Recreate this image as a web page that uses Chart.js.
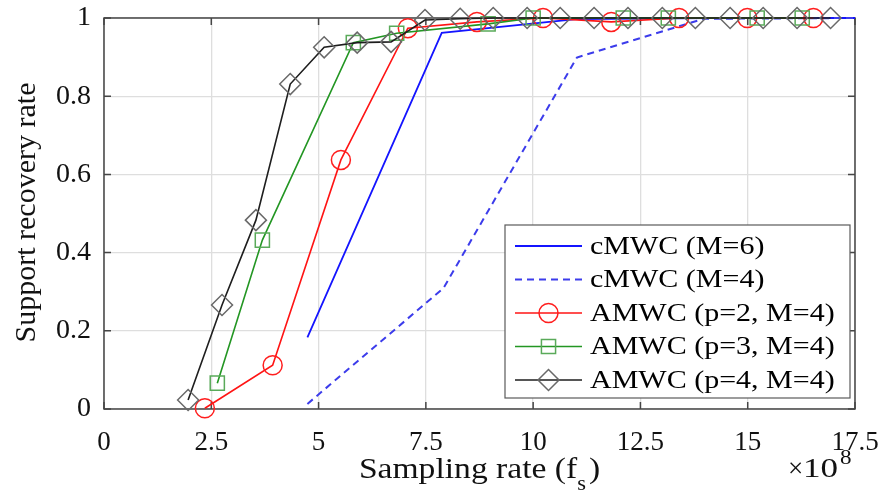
<!DOCTYPE html>
<html>
<head>
<meta charset="utf-8">
<script src="https://cdn.jsdelivr.net/npm/chart.js@4.4.1/dist/chart.umd.min.js"></script>
<style>
    html, body { margin: 0; padding: 0; background: #fff; }
    #wrap { width: 884px; height: 502px; }
</style>
</head>
<body>
<div id="wrap"><canvas id="myChart" width="884" height="502"></canvas></div>
<script>
// values (x in units of 1e8)
const xTicks = [0, 2.5, 5, 7.5, 10, 12.5, 15, 17.5];
const yTicks = [0, 0.2, 0.4, 0.6, 0.8, 1];

const seriesNames =
[
    'cMWC (M=6)',
    'cMWC (M=4)',
    'AMWC (p=2, M=4)',
    'AMWC (p=3, M=4)',
    'AMWC (p=4, M=4)'
];

const m6X = [4.74, 7.87, 11.0, 14.13, 17.5];
const m6Y = [0.183, 0.962, 0.997, 1.0, 1.0];

const m4X = [4.74, 7.91, 11.02, 13.97, 17.5];
const m4Y = [0.013, 0.309, 0.899, 0.998, 1.0];

const p2X = [2.35, 3.93, 5.52, 7.08, 8.69, 10.23, 11.82, 13.40, 14.99, 16.53];
const p2Y = [0.002, 0.112, 0.637, 0.974, 0.99, 1.0, 0.99, 1.0, 1.0, 1.0];

const p3X = [2.64, 3.69, 5.81, 6.82, 8.95, 10.0, 12.1, 13.15, 15.22, 16.27];
const p3Y = [0.066, 0.432, 0.937, 0.961, 0.985, 1.0, 1.0, 1.0, 1.0, 1.0];

const p4X = [1.96, 2.75, 3.54, 4.34, 5.13, 5.90, 6.69, 7.48, 8.30, 9.07,
             9.86, 10.63, 11.42, 12.21, 13.01, 13.78, 14.59, 15.36, 16.15, 16.93];
const p4Y = [0.023, 0.266, 0.483, 0.831, 0.925, 0.937, 0.939, 0.995, 0.998, 1.0,
             1.0, 1.0, 1.0, 1.0, 1.0, 1.0, 1.0, 1.0, 1.0, 1.0];

const FONT = '"Liberation Serif", "Times New Roman", serif';
const axisColor = 'rgb(70,70,70)';

function pts(xs, ys)
{
    return xs.map((x, i) => ({ x: x, y: ys[i] }));
}

let graphicData =
{
    datasets:
    [
        {
            label: seriesNames[0],
            data: pts(m6X, m6Y),
            borderColor: 'rgb(20,20,255)',
            borderWidth: 1.8,
            pointRadius: 0,
            order: 5
        },
        {
            label: seriesNames[1],
            data: pts(m4X, m4Y),
            borderColor: 'rgb(60,60,235)',
            borderWidth: 2,
            borderDash: [7, 5],
            pointRadius: 0,
            order: 4
        },
        {
            label: seriesNames[2],
            data: pts(p2X, p2Y),
            borderColor: 'rgb(255,20,20)',
            borderWidth: 1.6,
            pointStyle: 'circle',
            pointRadius: 9.5,
            pointBorderColor: 'rgb(255,30,30)',
            pointBorderWidth: 1.5,
            pointBackgroundColor: 'rgba(0,0,0,0)',
            order: 3
        },
        {
            label: seriesNames[3],
            data: pts(p3X, p3Y),
            borderColor: 'rgb(35,150,35)',
            borderWidth: 1.6,
            pointStyle: 'rect',
            pointRadius: 10,
            pointBorderColor: 'rgb(90,170,90)',
            pointBorderWidth: 1.5,
            pointBackgroundColor: 'rgba(0,0,0,0)',
            order: 2
        },
        {
            label: seriesNames[4],
            data: pts(p4X, p4Y),
            borderColor: 'rgb(30,30,30)',
            borderWidth: 1.6,
            pointStyle: 'rectRot',
            pointRadius: 10.5,
            pointBorderColor: 'rgb(105,105,105)',
            pointBorderWidth: 1.5,
            pointBackgroundColor: 'rgba(0,0,0,0)',
            order: 1
        }
    ]
};

function stretchText(ctx, text, x, y, sx)
{
    ctx.save();
    ctx.translate(x, y);
    ctx.scale(sx, 1);
    ctx.fillText(text, 0, 0);
    ctx.restore();
}

function drawMarker(ctx, style, x, y, r)
{
    ctx.beginPath();
    if (style === 'circle')
    {
        ctx.arc(x, y, r, 0, Math.PI * 2);
    }
    else if (style === 'rect')
    {
        const s = r * Math.SQRT1_2;
        ctx.rect(x - s, y - s, 2 * s, 2 * s);
    }
    else if (style === 'rectRot')
    {
        ctx.moveTo(x - r, y);
        ctx.lineTo(x, y - r);
        ctx.lineTo(x + r, y);
        ctx.lineTo(x, y + r);
        ctx.closePath();
    }
    ctx.stroke();
}

// matlab-like box with inward ticks
const boxPlugin =
{
    id: 'box',
    beforeDatasetsDraw(chart)
    {
        const ctx = chart.ctx;
        const a = chart.chartArea;
        const xs = chart.scales.x;
        const ys = chart.scales.y;
        ctx.save();
        ctx.strokeStyle = axisColor;
        ctx.lineWidth = 1.5;
        ctx.strokeRect(a.left, a.top, a.right - a.left, a.bottom - a.top);
        ctx.beginPath();
        xs.ticks.forEach(t =>
        {
            const px = xs.getPixelForValue(t.value);
            ctx.moveTo(px, a.bottom);
            ctx.lineTo(px, a.bottom - 7);
            ctx.moveTo(px, a.top);
            ctx.lineTo(px, a.top + 7);
        });
        ys.ticks.forEach(t =>
        {
            const py = ys.getPixelForValue(t.value);
            ctx.moveTo(a.left, py);
            ctx.lineTo(a.left + 7, py);
            ctx.moveTo(a.right, py);
            ctx.lineTo(a.right - 7, py);
        });
        ctx.stroke();
        ctx.restore();
    },
    afterDraw(chart)
    {
        const ctx = chart.ctx;
        const a = chart.chartArea;
        ctx.save();

        // legend
        const lx = a.right - 350, ly = a.bottom - 184, lw = 345, lh = 173;
        ctx.fillStyle = '#fff';
        ctx.fillRect(lx, ly, lw, lh);
        ctx.strokeStyle = 'rgb(90,90,90)';
        ctx.lineWidth = 1.2;
        ctx.strokeRect(lx, ly, lw, lh);
        chart.data.datasets.forEach((ds, i) =>
        {
            const ry = ly + 21 + i * 33.5;
            ctx.strokeStyle = ds.borderColor;
            ctx.lineWidth = ds.borderWidth;
            ctx.setLineDash(ds.borderDash || []);
            ctx.beginPath();
            ctx.moveTo(lx + 10, ry);
            ctx.lineTo(lx + 77, ry);
            ctx.stroke();
            ctx.setLineDash([]);
            if (ds.pointRadius > 0)
            {
                ctx.strokeStyle = ds.pointBorderColor;
                ctx.lineWidth = ds.pointBorderWidth;
                drawMarker(ctx, ds.pointStyle, lx + 43.5, ry, ds.pointRadius);
            }
            ctx.fillStyle = '#000';
            ctx.font = '25px ' + FONT;
            ctx.textAlign = 'left';
            ctx.textBaseline = 'middle';
            stretchText(ctx, ds.label, lx + 85, ry + 1, 1.2);
        });

        // x axis title with subscript
        ctx.fillStyle = '#111';
        ctx.textAlign = 'left';
        ctx.textBaseline = 'alphabetic';
        const sx = 1.12;
        ctx.font = '30px ' + FONT;
        const main = 'Sampling rate (f';
        const w1 = ctx.measureText(main).width * sx;
        const wp = ctx.measureText(')').width * sx;
        ctx.font = '20px ' + FONT;
        const ws = ctx.measureText('s').width * sx + 3;
        const total = w1 + ws + wp;
        let tx = (a.left + a.right) / 2 - total / 2;
        const base = 478;
        ctx.font = '30px ' + FONT;
        stretchText(ctx, main, tx, base, sx);
        ctx.font = '20px ' + FONT;
        stretchText(ctx, 's', tx + w1, base + 12, sx);
        ctx.font = '30px ' + FONT;
        stretchText(ctx, ')', tx + w1 + ws, base, sx);

        // exponent label
        ctx.font = '27px ' + FONT;
        stretchText(ctx, '\u00d7', a.right - 67, 477, 1.0);
        stretchText(ctx, '10', a.right - 52, 477, 1.3);
        ctx.font = '22px ' + FONT;
        stretchText(ctx, '8', a.right - 15, 464, 1.05);

        // y axis title
        ctx.save();
        ctx.translate(35, (a.top + a.bottom) / 2 - 1);
        ctx.rotate(-Math.PI / 2);
        ctx.font = '30px ' + FONT;
        ctx.textAlign = 'center';
        ctx.textBaseline = 'alphabetic';
        ctx.fillText('Support recovery rate', 0, 0);
        ctx.restore();

        ctx.restore();
    }
};

const config =
{
    type: 'line',
    data: graphicData,
    options:
    {
        responsive: false,
        animation: false,
        layout: { padding: { left: 0, top: 18, right: 29, bottom: 0 } },
        plugins:
        {
            legend: { display: false },
            tooltip: { enabled: false }
        },
        elements:
        {
            line: { tension: 0, fill: false },
        },
        datasets: { line: { clip: false } },
        scales:
        {
            x:
            {
                type: 'linear',
                min: xTicks[0],
                max: xTicks[xTicks.length - 1],
                afterBuildTicks: scale => { scale.ticks = xTicks.map(v => ({ value: v })); },
                afterFit: scale =>
                {
                    scale.height = 93;
                    scale.paddingLeft = 0;
                    scale.paddingRight = 0;
                },
                grid: { color: 'rgb(222,222,222)', lineWidth: 1.3, drawTicks: false },
                border: { display: false },
                ticks:
                {
                    padding: 18,
                    maxRotation: 0,
                    color: '#111',
                    font: { family: FONT, size: 27 },
                    callback: v => String(v)
                }
            },
            y:
            {
                type: 'linear',
                min: yTicks[0],
                max: yTicks[yTicks.length - 1],
                afterBuildTicks: scale => { scale.ticks = yTicks.map(v => ({ value: v })); },
                afterFit: scale =>
                {
                    scale.width = 104;
                    scale.paddingTop = 0;
                    scale.paddingBottom = 0;
                },
                grid: { color: 'rgb(222,222,222)', lineWidth: 1.3, drawTicks: false },
                border: { display: false },
                ticks:
                {
                    padding: 13,
                    color: '#111',
                    font: { family: FONT, size: 28 },
                    callback: v => String(v)
                }
            }
        }
    },
    plugins: [boxPlugin]
};

new Chart(document.getElementById('myChart'), config);
</script>
</body>
</html>
